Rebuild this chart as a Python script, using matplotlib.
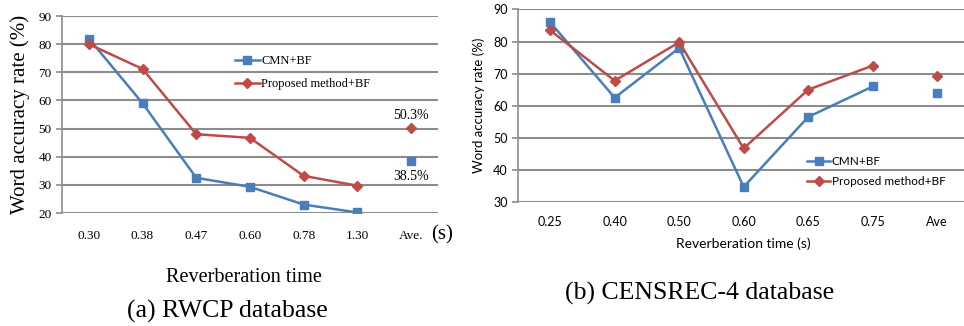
import matplotlib.pyplot as plt

# (a) RWCP database
rwcp_times = ['0.30', '0.38', '0.47', '0.60', '0.78', '1.30']
rwcp_cmn = [82.0, 59.0, 32.5, 29.3, 23.0, 20.2]
rwcp_prop = [80.0, 71.2, 48.0, 46.7, 33.2, 29.7]
rwcp_ave_cmn = 38.5
rwcp_ave_prop = 50.3

# (b) CENSREC-4 database
cens_times = ['0.25', '0.40', '0.50', '0.60', '0.65', '0.75']
cens_cmn = [86.0, 62.5, 78.0, 34.7, 56.5, 66.0]
cens_prop = [83.5, 67.8, 79.8, 46.7, 65.0, 72.5]
cens_ave_cmn = 64.0
cens_ave_prop = 69.2

blue = '#4a7ebb'
red = '#be4b48'
grid = '#8c8c8c'
serif = 'Liberation Serif'
sans = 'Lato'

fig = plt.figure(figsize=(9.64, 3.26), dpi=100)


def style_axes(ax, ymin, ymax, labelfont, size):
    ax.set_xlim(-0.5, 6.5)
    ax.set_ylim(ymin, ymax)
    ax.set_yticks(range(ymin, ymax + 1, 10))
    for s in ['top', 'right', 'bottom']:
        ax.spines[s].set_visible(False)
    ax.spines['left'].set_color(grid)
    ax.spines['left'].set_linewidth(1.2)
    ax.grid(axis='y', color=grid, linewidth=1.5)
    ax.set_axisbelow(True)
    ax.tick_params(axis='y', color=grid, length=4, width=1.2, labelsize=size)
    ax.tick_params(axis='x', length=0, labelsize=size)
    for lab in ax.get_xticklabels() + ax.get_yticklabels():
        lab.set_family(labelfont)


# ---- left chart ----
ax1 = fig.add_axes([0.0643, 0.3466, 0.390, 0.6043])
x = list(range(len(rwcp_times)))
ax1.plot(x, rwcp_cmn, color=blue, lw=1.8, marker='s', ms=5.5, label='CMN+BF')
ax1.plot(x, rwcp_prop, color=red, lw=1.8, marker='D', ms=5, label='Proposed method+BF')
ax1.plot([6], [rwcp_ave_cmn], color=blue, marker='s', ms=5.5, ls='none')
ax1.plot([6], [rwcp_ave_prop], color=red, marker='D', ms=5, ls='none')
ax1.set_xticks(range(7))
ax1.set_xticklabels(rwcp_times + ['Ave.'])
style_axes(ax1, 20, 90, serif, 9.5)
ax1.tick_params(axis='x', pad=12)
ax1.text(6, rwcp_ave_prop + 4.5, '50.3%', ha='center', va='center',
         family=serif, fontsize=10)
ax1.text(6, rwcp_ave_cmn - 5.5, '38.5%', ha='center', va='center',
         family=serif, fontsize=10)
ax1.text(6.37, 12.4, '(s)', ha='left', va='center', family=serif,
         fontsize=15, clip_on=False)
ax1.set_ylabel('Word accuracy rate (%)', family=serif, fontsize=15, labelpad=6)
ax1.legend(loc='upper left', bbox_to_anchor=(0.46, 0.80), frameon=False,
           prop={'family': serif, 'size': 9}, handlelength=2.0,
           handletextpad=0.1, labelspacing=0.85, borderpad=0, borderaxespad=0)
fig.text(0.253, 1 - 277 / 326, 'Reverberation time', ha='center', va='center',
         family=serif, fontsize=14.6)
fig.text(0.236, 1 - 311 / 326, '(a) RWCP database', ha='center', va='center',
         family=serif, fontsize=18.5)

# ---- right chart ----
ax2 = fig.add_axes([0.5373, 0.3804, 0.4683, 0.5905])
x = list(range(len(cens_times)))
ax2.plot(x, cens_cmn, color=blue, lw=1.8, marker='s', ms=5.5, label='CMN+BF')
ax2.plot(x, cens_prop, color=red, lw=1.8, marker='D', ms=5, label='Proposed method+BF')
ax2.plot([6], [cens_ave_cmn], color=blue, marker='s', ms=5.5, ls='none')
ax2.plot([6], [cens_ave_prop], color=red, marker='D', ms=5, ls='none')
ax2.set_xticks(range(7))
ax2.set_xticklabels(cens_times + ['Ave'])
style_axes(ax2, 30, 90, sans, 9)
ax2.tick_params(axis='x', pad=10)
ax2.set_ylabel('Word accuracy rate (%)', family=sans, fontsize=9.5, labelpad=6)
ax2.set_xlabel('Reverberation time (s)', family=sans, fontsize=10, labelpad=7)
ax2.legend(loc='upper left', bbox_to_anchor=(0.64, 0.239), frameon=False,
           prop={'family': sans, 'size': 8.5}, handlelength=2.0,
           handletextpad=0.1, labelspacing=0.75, borderpad=0, borderaxespad=0)
fig.text(0.726, 1 - 293 / 326, '(b) CENSREC-4 database', ha='center', va='center',
         family=serif, fontsize=18.5)

fig.savefig('out.png', dpi=100)
